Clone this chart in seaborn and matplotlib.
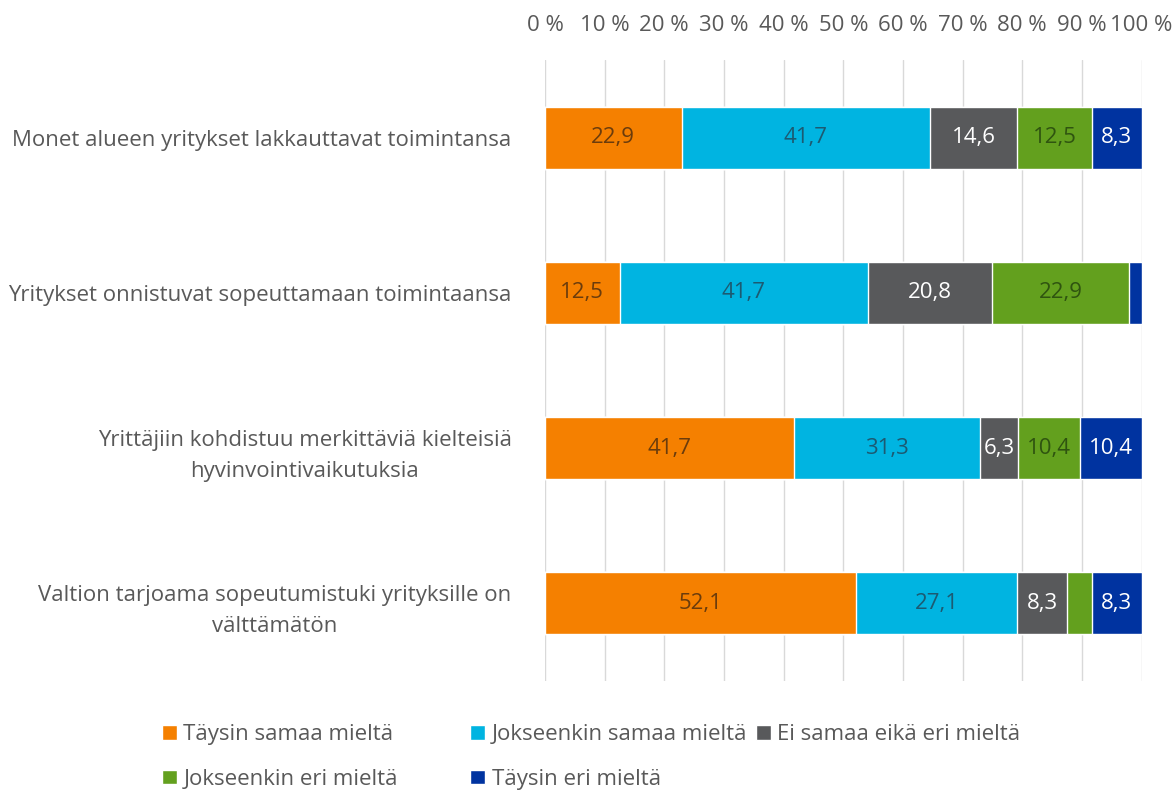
import matplotlib
matplotlib.use("Agg")
import matplotlib.pyplot as plt
import seaborn as sns
import numpy as np
import pandas as pd

categories = [
    "Monet alueen yritykset lakkauttavat toimintansa",
    "Yritykset onnistuvat sopeuttamaan toimintaansa",
    "Yrittäjiin kohdistuu merkittäviä kielteisiä\nhyvinvointivaikutuksia",
    "Valtion tarjoama sopeutumistuki yrityksille on\nvälttämätön",
]
series = [
    "Täysin samaa mieltä",
    "Jokseenkin samaa mieltä",
    "Ei samaa eikä eri mieltä",
    "Jokseenkin eri mieltä",
    "Täysin eri mieltä",
]
taysin_samaa = [22.9, 12.5, 41.7, 52.1]
jokseenkin_samaa = [41.7, 41.7, 31.3, 27.1]
ei_samaa_eika_eri = [14.6, 20.8, 6.3, 8.3]
jokseenkin_eri = [12.5, 22.9, 10.4, 4.2]
taysin_eri = [8.3, 2.1, 10.4, 8.3]
values = [taysin_samaa, jokseenkin_samaa, ei_samaa_eika_eri, jokseenkin_eri, taysin_eri]
ticks = [0, 10, 20, 30, 40, 50, 60, 70, 80, 90, 100]

colors = ["#F58000", "#00B4E1", "#58595B", "#63A01E", "#0033A0"]
label_colors = ["#6b3c0c", "#1c5a72", "#ffffff", "#2f5410", "#ffffff"]

sns.set_theme(style="white")
plt.rcParams["font.family"] = ["Open Sans", "DejaVu Sans"]
text_color = "#595959"
fs = 16

fig = plt.figure(figsize=(11.76, 7.9), dpi=100)
ax = fig.add_axes([0.4634, 0.138, 0.5073, 0.786])

arr = np.array(values)
cum = arr.cumsum(axis=0)
# draw widest first so the stacked segments show
for i in range(len(series) - 1, -1, -1):
    df = pd.DataFrame({"cat": categories, "val": cum[i]})
    sns.barplot(data=df, x="val", y="cat", orient="h", color=colors[i],
                width=0.4, saturation=1, ax=ax, zorder=3, label=series[i])

for i in range(len(series)):
    for j in range(len(categories)):
        v = arr[i, j]
        if v < 5:
            continue
        left = cum[i, j] - v
        ax.text(left + v / 2, j, f"{v:.1f}".replace(".", ","), ha="center",
                va="center", fontsize=fs, color=label_colors[i], zorder=4)

ax.set_xlim(0, 100)
ax.set_ylim(3.5, -0.5)
ax.set_xticks(ticks)
ax.set_xticklabels([f"{t} %" for t in ticks])
ax.xaxis.tick_top()
ax.tick_params(axis="x", length=0, labelsize=fs, colors=text_color, pad=17)
ax.tick_params(axis="y", length=0, labelsize=fs, colors=text_color, pad=24)
ax.set_xlabel("")
ax.set_ylabel("")
ax.grid(axis="x", color="#d9d9d9", linewidth=1, zorder=0)
ax.grid(axis="y", visible=False)
for s in ax.spines.values():
    s.set_visible(False)

for lab in ax.get_yticklabels():
    lab.set_horizontalalignment("right")
    lab.set_multialignment("center")
    lab.set_linespacing(1.65)

handles, labels = ax.get_legend_handles_labels()
by_label = {l: h for h, l in zip(handles, labels)}
if ax.get_legend():
    ax.get_legend().remove()

# legend laid out like the original: three columns, filled row by row
columns = [[0, 3], [1, 4], [2]]
col_x = [0.138, 0.4, 0.643]
for cols, x in zip(columns, col_x):
    fig.legend([by_label[series[k]] for k in cols], [series[k] for k in cols],
               loc="upper left", bbox_to_anchor=(x, 0.083), frameon=False,
               fontsize=fs, labelcolor=text_color, handlelength=0.65,
               handleheight=0.65, handletextpad=0.3, labelspacing=1.05,
               borderpad=0, borderaxespad=0)

fig.savefig("out.png", dpi=100, facecolor="white")
